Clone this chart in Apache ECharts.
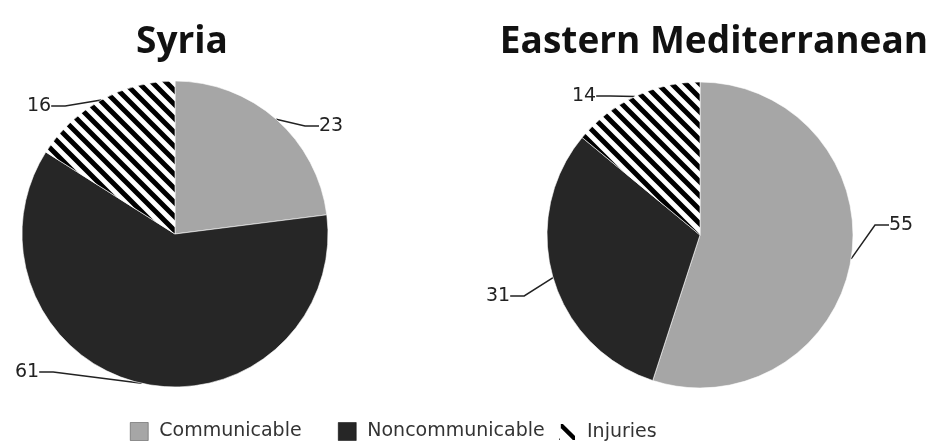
<!DOCTYPE html>
<html>
<head>
<meta charset="utf-8">
<script src="https://cdn.jsdelivr.net/npm/echarts@6/dist/echarts.min.js"></script>
<style>
html,body{margin:0;padding:0;background:#fff;}
#chart{width:930px;height:446px;}
</style>
</head>
<body>
<div id="chart"></div>
<script>
const categories = ['Communicable', 'Noncommunicable', 'Injuries'];
const titles = ['Syria', 'Eastern Mediterranean'];
const syriaValues = [23, 61, 16];
const emValues = [55, 31, 14];

// diagonal stripe pattern for Injuries
function makeStripes() {
  const s = 14;
  const c = document.createElement('canvas');
  c.width = s; c.height = s;
  const ctx = c.getContext('2d');
  ctx.fillStyle = '#ffffff';
  ctx.fillRect(0, 0, s, s);
  ctx.strokeStyle = '#000000';
  ctx.lineWidth = 5;
  ctx.beginPath();
  ctx.moveTo(-s, 0); ctx.lineTo(s, 2 * s);
  ctx.moveTo(-1, -1); ctx.lineTo(s + 1, s + 1);
  ctx.moveTo(0, -s); ctx.lineTo(2 * s, s);
  ctx.stroke();
  return c;
}
const stripes = { image: makeStripes(), repeat: 'repeat' };
const colors = ['#a6a6a6', '#262626', stripes];

const labelPos = [
  [ {x: 319, y: 126}, {x: 15, y: 372}, {x: 27, y: 106} ],
  [ {x: 889, y: 225}, {x: 486, y: 296}, {x: 572, y: 96} ]
];
const legendLeft = [125, 333, 552];

const chart = echarts.init(document.getElementById('chart'));

function buildSeries(values, center, si) {
  return {
    type: 'pie',
    center: center,
    radius: 153,
    startAngle: 90,
    clockwise: true,
    animation: false,
    data: categories.map((c, i) => ({
      name: c,
      value: values[i],
      itemStyle: { color: colors[i] }
    })),
    itemStyle: { borderColor: '#ffffff', borderWidth: 0.6 },
    label: {
      show: true,
      position: 'outside',
      formatter: '{c}',
      fontFamily: 'DejaVu Sans',
      fontSize: 19,
      color: '#222222'
    },
    labelLine: {
      show: true,
      length: 12,
      length2: 14,
      smooth: false,
      lineStyle: { color: '#222222', width: 1.5 }
    },
    labelLayout: function (p) {
      const pos = labelPos[si][p.dataIndex];
      return { x: pos.x, y: pos.y, align: 'left', verticalAlign: 'middle' };
    },
    emphasis: { disabled: true }
  };
}

const legendIcons = [
  { icon: 'rect', itemStyle: { color: '#a6a6a6', borderColor: '#444', borderWidth: 0.5 } },
  { icon: 'rect', itemStyle: { color: '#262626', borderColor: '#000', borderWidth: 0.5 } },
  { icon: 'path://M2,0 L6,0 L20,14 L20,20 L16,20 L2,6 Z M0,16 L3,16 L3,20 L0,20 Z', itemStyle: { color: '#000000' } }
];

chart.setOption({
  backgroundColor: '#ffffff',
  title: [
    { text: titles[0], left: 177, top: 37, textAlign: 'center', textVerticalAlign: 'middle',
      textStyle: { fontFamily: 'Open Sans', fontWeight: 'bold', fontSize: 37, color: '#111' } },
    { text: titles[1], left: 709, top: 37, textAlign: 'center', textVerticalAlign: 'middle',
      textStyle: { fontFamily: 'Open Sans', fontWeight: 'bold', fontSize: 37, color: '#111' } }
  ],
  legend: categories.map((c, i) => ({
    left: legendLeft[i],
    top: 417,
    itemWidth: 18,
    itemHeight: 18,
    selectedMode: false,
    textStyle: { fontFamily: 'DejaVu Sans', fontSize: 19, color: '#333333', padding: [0, 0, 0, 6] },
    data: [Object.assign({ name: c }, legendIcons[i])]
  })),
  series: [
    buildSeries(syriaValues, [175, 234], 0),
    buildSeries(emValues, [700, 235], 1)
  ]
});
</script>
</body>
</html>
